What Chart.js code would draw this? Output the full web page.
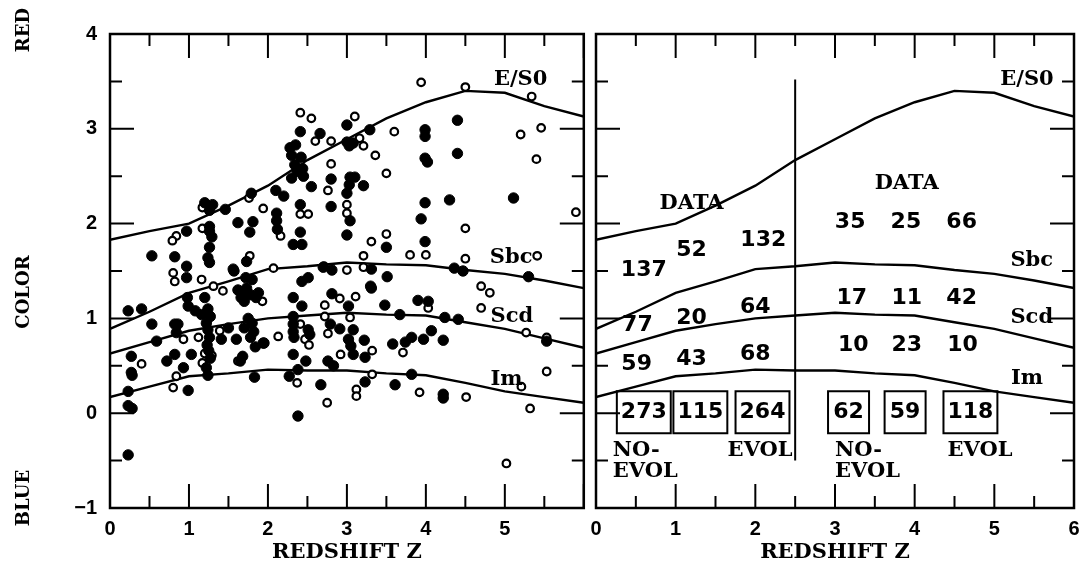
<!DOCTYPE html>
<html>
<head>
<meta charset="utf-8">
<script src="https://cdn.jsdelivr.net/npm/chart.js@4.4.1/dist/chart.umd.min.js"></script>
<style>
  body { margin: 0; background: #fff; }
  #wrap { position: relative; width: 1086px; height: 563px; }
  canvas { position: absolute; top: 0; }
</style>
</head>
<body>
<div id="wrap">
  <canvas id="left" width="590" height="563" style="left:0"></canvas>
  <canvas id="right" width="496" height="563" style="left:590px"></canvas>
</div>
<script>
// model colour tracks, sampled every 0.5 in redshift
const zGrid = [0, 0.5, 1, 1.5, 2, 2.5, 3, 3.5, 4, 4.5, 5, 5.5, 6];
const colorES0 = [1.83, 1.92, 2.00, 2.19, 2.40, 2.67, 2.89, 3.11, 3.28, 3.40, 3.38, 3.24, 3.13];
const colorSbc = [0.89, 1.07, 1.27, 1.39, 1.52, 1.55, 1.59, 1.57, 1.56, 1.51, 1.47, 1.40, 1.32];
const colorScd = [0.63, 0.75, 0.87, 0.94, 1.00, 1.03, 1.06, 1.04, 1.03, 0.96, 0.89, 0.79, 0.69];
const colorIm  = [0.17, 0.28, 0.39, 0.42, 0.46, 0.45, 0.45, 0.42, 0.40, 0.32, 0.23, 0.17, 0.11];

// observed galaxies [z, colour]
const filledGalaxies = [
  [1.20,2.22],[1.30,2.20],[1.26,2.14],[1.46,2.15],[1.79,2.32],[1.62,2.01],[1.81,2.02],[1.77,1.91],
  [2.10,2.35],[2.20,2.29],[2.11,2.11],[2.11,2.03],[2.12,1.94],[2.41,2.20],[2.41,1.91],[2.32,1.78],[2.43,1.78],
  [2.28,2.80],[2.35,2.83],[2.30,2.72],[2.42,2.70],[2.34,2.62],[2.44,2.58],[2.37,2.55],[2.30,2.48],[2.45,2.50],
  [2.41,2.97],[2.66,2.95],[3.00,3.04],[3.29,2.99],[3.00,2.86],[3.05,2.84],[3.03,2.82],[3.08,2.85],
  [2.55,2.39],[2.80,2.47],[3.04,2.49],[3.10,2.49],[3.03,2.41],[3.00,2.32],[3.21,2.40],[2.80,2.18],
  [3.04,2.03],[3.00,1.88],[3.50,1.75],
  [3.99,2.99],[3.99,2.92],[3.99,2.69],[4.02,2.65],[4.40,3.09],[4.40,2.74],[3.99,2.22],[3.94,2.05],
  [3.99,1.81],[4.30,2.25],[5.11,2.27],
  [0.97,1.92],[1.26,1.97],[1.26,1.92],[1.29,1.86],[1.26,1.75],[1.24,1.64],[1.26,1.59],[0.53,1.66],
  [0.82,1.65],[1.73,1.60],[0.97,1.55],[1.56,1.52],
  [0.97,1.43],[0.98,1.22],[1.20,1.22],[0.99,1.13],[1.08,1.08],[1.16,1.04],[0.23,1.08],[0.40,1.10],
  [0.53,0.94],[0.82,0.94],[0.86,0.94],[0.59,0.76],[0.84,0.85],
  [1.24,1.10],[1.27,1.02],[1.22,0.95],[1.24,0.88],[1.26,0.80],[1.23,0.72],[1.25,0.66],[1.27,0.58],
  [1.22,0.48],[1.24,0.40],[1.41,0.78],[1.50,0.90],[1.60,0.78],
  [1.62,1.30],[1.68,1.28],[1.73,1.32],[1.78,1.25],[1.85,1.22],[1.70,1.18],[1.88,1.27],[1.66,1.22],
  [1.80,1.41],[1.72,1.43],
  [1.75,1.00],[1.80,0.95],[1.82,0.86],[1.78,0.80],[1.84,0.70],[1.70,0.90],[1.68,0.60],[1.65,0.55],
  [1.94,0.74],[1.83,0.38],
  [0.72,0.55],[0.82,0.62],[1.03,0.62],[0.93,0.48],[0.99,0.24],[0.27,0.60],[0.27,0.43],[0.28,0.40],
  [0.23,0.23],[0.23,0.08],[0.28,0.05],[0.23,-0.44],
  [2.43,1.39],[2.51,1.43],[2.32,1.22],[2.43,1.13],[2.81,1.26],[3.02,1.13],[3.31,1.32],[3.51,1.44],
  [3.48,1.14],[3.67,1.04],[3.90,1.19],
  [2.32,1.02],[2.32,0.94],[2.32,0.86],[2.33,0.80],[2.51,0.88],[2.53,0.83],[2.79,0.94],[2.91,0.89],
  [3.08,0.88],[3.02,0.78],[3.05,0.71],[3.08,0.62],[3.22,0.77],[3.23,0.59],
  [2.32,0.62],[2.48,0.55],[2.76,0.55],[2.83,0.50],[1.95,0.74],[2.38,0.46],[2.27,0.39],[2.67,0.30],
  [3.23,0.33],[2.38,-0.03],
  [3.58,0.73],[3.74,0.75],[3.82,0.80],[3.97,0.78],[4.07,0.87],[4.22,0.77],[3.82,0.41],[3.61,0.30],
  [4.22,0.20],[4.22,0.16],
  [4.03,1.18],[4.24,1.01],[4.41,0.99],[4.47,1.50],[4.36,1.53],[5.30,1.44],[5.53,0.76],
  [2.70,1.54],[2.81,1.51],[3.31,1.52],[3.30,1.34],[1.57,1.50]
];
const openGalaxies = [
  [3.94,3.49],[4.50,3.44],[5.34,3.34],[2.41,3.17],[2.55,3.11],[3.10,3.13],[3.60,2.97],[5.20,2.94],
  [5.46,3.01],[2.60,2.87],[2.80,2.87],[3.16,2.90],[3.21,2.82],[2.41,2.66],[3.36,2.72],[2.80,2.63],
  [5.40,2.68],[3.50,2.53],[2.76,2.35],[1.17,2.17],[1.76,2.27],[1.94,2.16],[2.41,2.10],[2.51,2.10],
  [3.00,2.20],[3.00,2.11],[2.16,1.87],[3.50,1.89],[3.31,1.81],[3.21,1.66],[3.80,1.67],[4.00,1.67],
  [5.90,2.12],[4.50,1.95],[4.50,1.63],[5.41,1.66],[1.17,1.95],[0.84,1.87],[0.79,1.82],[1.77,1.66],
  [0.80,1.48],[0.82,1.39],[1.16,1.41],[1.31,1.34],[1.43,1.29],[1.93,1.18],[2.07,1.53],[2.71,1.55],
  [3.00,1.51],[3.21,1.54],[4.70,1.34],[4.81,1.27],[4.70,1.11],[4.03,1.11],
  [2.72,1.14],[2.91,1.21],[3.11,1.23],[3.04,1.01],[2.72,1.02],[2.41,0.94],[2.47,0.78],[2.52,0.72],
  [2.76,0.84],[2.92,0.62],[3.32,0.66],[2.13,0.81],[3.71,0.64],
  [0.93,0.78],[1.12,0.80],[1.27,1.02],[1.29,0.61],[1.20,0.63],[1.39,0.87],[1.62,0.55],[0.40,0.52],
  [0.84,0.39],[0.80,0.27],[1.17,0.53],
  [2.37,0.32],[2.75,0.11],[3.32,0.41],[3.12,0.25],[3.12,0.18],[3.92,0.22],[4.51,0.17],
  [5.27,0.85],[5.53,0.80],[5.53,0.44],[5.21,0.28],[5.32,0.05],[5.02,-0.53]
];

// curve names and where they sit in each panel
const curveNames = ['E/S0', 'Sbc', 'Scd', 'Im'];
const leftNameZ = [5.20, 5.08, 5.09, 5.02];
const leftNameY = [3.52, 1.64, 1.02, 0.36];
const rightNameZ = [5.41, 5.47, 5.47, 5.41];
const rightNameY = [3.52, 1.61, 1.01, 0.37];

// counts in the right panel
const countText = ['137','52','132','35','25','66','17','11','42','77','20','64','10','23','10','59','43','68'];
const countZ = [0.60,1.20,2.10,3.19,3.89,4.59,3.21,3.90,4.59,0.52,1.20,2.00,3.23,3.90,4.60,0.51,1.20,2.00];
const countY = [1.51,1.72,1.82,2.01,2.01,2.01,1.21,1.21,1.21,0.93,1.00,1.12,0.72,0.72,0.72,0.52,0.57,0.62];
const boxText = ['273','115','264','62','59','118'];
const boxZ = [0.60,1.31,2.09,3.17,3.88,4.70];
const boxY = 0.01;
const wordText = ['DATA','DATA','NO-','EVOL','EVOL','NO-','EVOL','EVOL'];
const wordZ = [1.20,3.90,0.21,0.21,2.06,3.00,3.00,4.82];
const wordY = [2.21,2.42,-0.39,-0.62,-0.39,-0.39,-0.62,-0.39];
const wordAlign = ['center','center','left','left','center','left','left','center'];
const dividerZ = 2.5;
const dividerY = [3.52, -0.50];

const wordFont = 'bold 21px "DejaVu Serif"';
const numFont = 'bold 22px "DejaVu Sans"';
const tickFont = { family: 'Liberation Sans', size: 20, weight: 'bold' };
const titleFont = { family: 'DejaVu Serif', size: 21, weight: 'bold', lineHeight: 1 };

function curve(vals) {
  return {
    data: zGrid.map((z, i) => ({ x: z, y: vals[i] })),
    showLine: true, borderColor: '#000', borderWidth: 2.4, pointRadius: 0, fill: false
  };
}

function curveSets() {
  return [curve(colorES0), curve(colorSbc), curve(colorScd), curve(colorIm)];
}

// frame with inward ticks on all four sides
const framePlugin = {
  id: 'frame',
  afterDatasetsDraw(chart) {
    const { ctx, chartArea: a, scales: { x, y } } = chart;
    ctx.save();
    ctx.strokeStyle = '#000';
    ctx.lineWidth = 2.5;
    ctx.strokeRect(a.left, a.top, a.right - a.left, a.bottom - a.top);
    ctx.lineWidth = 2;
    ctx.beginPath();
    for (let v = 0; v <= 6.001; v += 0.5) {
      const px = x.getPixelForValue(v);
      const len = Math.abs(v - Math.round(v)) < 0.01 ? 24 : 12;
      ctx.moveTo(px, a.top); ctx.lineTo(px, a.top + len);
      ctx.moveTo(px, a.bottom); ctx.lineTo(px, a.bottom - len);
    }
    for (let v = -1; v <= 4.001; v += 0.5) {
      const py = y.getPixelForValue(v);
      const len = Math.abs(v - Math.round(v)) < 0.01 ? 24 : 12;
      ctx.moveTo(a.left, py); ctx.lineTo(a.left + len, py);
      ctx.moveTo(a.right, py); ctx.lineTo(a.right - len, py);
    }
    ctx.stroke();
    ctx.restore();
  }
};

function textPlugin(items) {
  return {
    id: 'texts',
    afterDatasetsDraw(chart) {
      const { ctx, scales: { x, y } } = chart;
      ctx.save();
      ctx.fillStyle = '#000';
      ctx.strokeStyle = '#000';
      ctx.textBaseline = 'middle';
      items.forEach(it => {
        ctx.font = it.font;
        ctx.textAlign = it.align || 'center';
        const px = x.getPixelForValue(it.z);
        const py = y.getPixelForValue(it.y);
        ctx.fillText(it.text, px, py);
        if (it.box) {
          const w = Math.max(ctx.measureText(it.text).width + 8, 41);
          ctx.lineWidth = 2;
          ctx.strokeRect(px - w / 2, py - 21, w, 42);
        }
      });
      ctx.restore();
    }
  };
}

function xScale(showSix) {
  return {
    type: 'linear', min: 0, max: 6,
    ticks: { stepSize: 1, padding: 9, color: '#000', font: tickFont,
             callback: v => (v === 6 && !showSix) ? '' : String(v) },
    grid: { display: false, drawTicks: false },
    border: { display: false },
    title: { display: true, text: 'REDSHIFT Z', color: '#000', font: titleFont, padding: { top: 0, bottom: 0 } },
    afterFit: s => { s.height = 55; s.paddingLeft = 0; s.paddingRight = 0; }
  };
}

const baseOptions = {
  responsive: false,
  animation: false,
  events: [],
  plugins: { legend: { display: false }, tooltip: { enabled: false } }
};

const leftItems = curveNames.map((t, i) => ({ text: t, z: leftNameZ[i], y: leftNameY[i], font: wordFont }));

const sideLabels = {
  id: 'sideLabels',
  afterDraw(chart) {
    const ctx = chart.ctx;
    ctx.save();
    ctx.fillStyle = '#000';
    ctx.font = 'bold 18px "DejaVu Serif"';
    ctx.textAlign = 'center';
    ctx.textBaseline = 'middle';
    [['RED', 30], ['COLOR', 292], ['BLUE', 498]].forEach(([t, py]) => {
      ctx.save();
      ctx.translate(24, py);
      ctx.rotate(-Math.PI / 2);
      ctx.fillText(t, 0, 0);
      ctx.restore();
    });
    ctx.restore();
  }
};

new Chart(document.getElementById('left'), {
  type: 'scatter',
  data: {
    datasets: [
      { data: filledGalaxies.map(p => ({ x: p[0], y: p[1] })), pointRadius: 5.2,
        backgroundColor: '#000', borderColor: '#000', borderWidth: 1 },
      { data: openGalaxies.map(p => ({ x: p[0], y: p[1] })), pointRadius: 3.8,
        backgroundColor: '#fff', borderColor: '#000', borderWidth: 2.2 },
      ...curveSets()
    ]
  },
  options: {
    ...baseOptions,
    layout: { padding: { top: 34, right: 6, left: 0, bottom: 0 } },
    scales: {
      x: xScale(false),
      y: {
        type: 'linear', min: -1, max: 4,
        ticks: { stepSize: 1, padding: 13, color: '#000', font: tickFont,
                 callback: v => v < 0 ? '\u2212' + Math.abs(v) : String(v) },
        grid: { display: false, drawTicks: false },
        border: { display: false },
        afterFit: s => { s.width = 110; s.paddingTop = 0; s.paddingBottom = 0; }
      }
    }
  },
  plugins: [framePlugin, textPlugin(leftItems), sideLabels]
});

const rightItems = [
  ...curveNames.map((t, i) => ({ text: t, z: rightNameZ[i], y: rightNameY[i], font: wordFont })),
  ...countText.map((t, i) => ({ text: t, z: countZ[i], y: countY[i], font: numFont })),
  ...boxText.map((t, i) => ({ text: t, z: boxZ[i], y: boxY, font: numFont, box: true })),
  ...wordText.map((t, i) => ({ text: t, z: wordZ[i], y: wordY[i], font: wordFont, align: wordAlign[i] }))
];

new Chart(document.getElementById('right'), {
  type: 'scatter',
  data: {
    datasets: [
      { data: dividerY.map(v => ({ x: dividerZ, y: v })), showLine: true,
        borderColor: '#000', borderWidth: 2, pointRadius: 0 },
      ...curveSets()
    ]
  },
  options: {
    ...baseOptions,
    layout: { padding: { top: 34, right: 12, left: 6, bottom: 0 } },
    scales: {
      x: xScale(true),
      y: { type: 'linear', min: -1, max: 4, display: false }
    }
  },
  plugins: [framePlugin, textPlugin(rightItems)]
});
</script>
</body>
</html>
